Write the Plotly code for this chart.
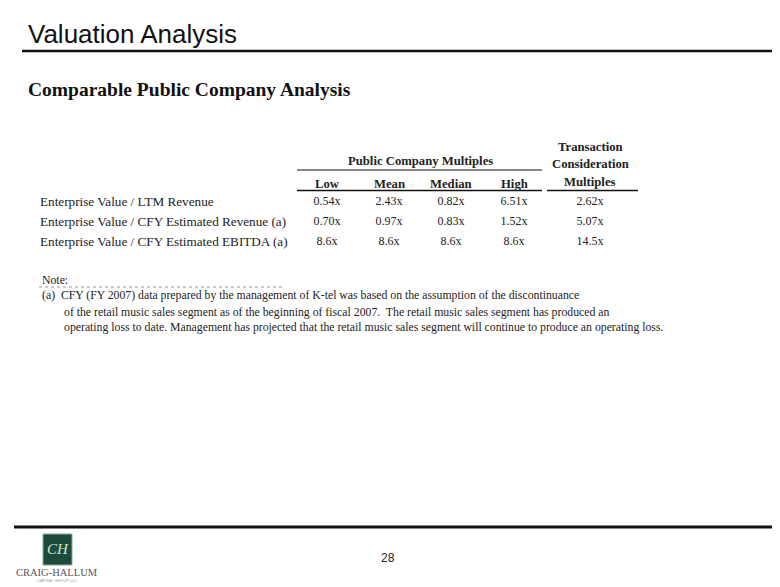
import plotly.graph_objects as go

# table data
row_labels = [
    "Enterprise Value / LTM Revenue",
    "Enterprise Value / CFY Estimated Revenue (a)",
    "Enterprise Value / CFY Estimated EBITDA (a)",
]
col_headers = ["Low", "Mean", "Median", "High"]
low = ["0.54x", "0.70x", "8.6x"]
mean = ["2.43x", "0.97x", "8.6x"]
median = ["0.82x", "0.83x", "8.6x"]
high = ["6.51x", "1.52x", "8.6x"]
transaction = ["2.62x", "5.07x", "14.5x"]

note_lines = [
    "(a)  CFY (FY 2007) data prepared by the management of K-tel was based on the assumption of the discontinuance",
    "of the retail music sales segment as of the beginning of fiscal 2007.  The retail music sales segment has produced an",
    "operating loss to date. Management has projected that the retail music sales segment will continue to produce an operating loss.",
]

SERIF = "Liberation Serif, Times New Roman, serif"
SANS = "Liberation Sans, Arial, sans-serif"
TXT = "#222222"

# page is offset by the 8px body margin, so the axes start at 8
OFF = 8
col_x = [327, 389, 451, 514, 590]
row_y = [202, 222, 242]

fig = go.Figure()

# value cells
for xc, vals in zip(col_x, [low, mean, median, high, transaction]):
    fig.add_trace(go.Scatter(
        x=[xc] * len(vals), y=row_y, text=vals, mode="text",
        textposition="middle center",
        textfont=dict(family=SERIF, size=12, color=TXT),
        hoverinfo="skip", showlegend=False))

# row labels
fig.add_trace(go.Scatter(
    x=[40] * len(row_labels), y=[r + 1 for r in row_y], text=row_labels, mode="text",
    textposition="middle right",
    textfont=dict(family=SERIF, size=13.2, color=TXT),
    hoverinfo="skip", showlegend=False))

ann = []
def txt(x, y, s, size, family=SERIF, bold=False, anchor="left", color=TXT):
    ann.append(dict(x=x, y=y, xref="x", yref="y", text=f"<b>{s}</b>" if bold else s,
                    showarrow=False, xanchor=anchor, yanchor="middle",
                    font=dict(family=family, size=size, color=color)))

txt(26, 34, "Valuation Analysis", 26, family=SANS, color="#111111")
txt(26, 89, "Comparable Public Company Analysis", 19.5, bold=True, color="#111111")

txt(420, 161, "Public Company Multiples", 12.7, bold=True, anchor="center")
for xc, h in zip(col_x[:4], col_headers):
    txt(xc, 184, h, 12.7, bold=True, anchor="center")
txt(590, 147, "Transaction", 12.7, bold=True, anchor="center")
txt(590, 164, "Consideration", 12.7, bold=True, anchor="center")
txt(590, 182, "Multiples", 12.7, bold=True, anchor="center")

txt(40, 280, "Note:", 11.75)
txt(40, 295, note_lines[0], 11.75)
txt(62, 312, note_lines[1], 11.75)
txt(62, 327, note_lines[2], 11.75)

txt(388, 558, "28", 12, family=SANS, anchor="center")

# logo
txt(57.5, 549, "<i>CH</i>", 15, family=SERIF, anchor="center", color="#d8e6c8")
txt(57, 572, "CRAIG-HALLUM", 10.5, family=SERIF, anchor="center", color="#555555")
txt(57, 580, "CAPITAL GROUP LLC", 4, family=SANS, anchor="center", color="#999999")

shapes = [
    dict(type="line", x0=22, x1=780, y0=51, y1=51, line=dict(color="#111111", width=2.5)),
    dict(type="line", x0=297, x1=542, y0=170, y1=170, line=dict(color="#888888", width=2)),
    dict(type="line", x0=297, x1=542, y0=190.5, y1=190.5, line=dict(color="#111111", width=1.5)),
    dict(type="line", x0=547, x1=638, y0=190.5, y1=190.5, line=dict(color="#111111", width=1.5)),
    dict(type="line", x0=39, x1=283, y0=287, y1=287, line=dict(color="#999999", width=1, dash="dot")),
    dict(type="line", x0=14, x1=776, y0=527, y1=527, line=dict(color="#111111", width=3)),
    dict(type="rect", x0=43, x1=72, y0=534, y1=565, fillcolor="#1d4a3c",
         line=dict(color="#8fa89a", width=1)),
]

fig.update_layout(
    width=780 - OFF, height=587 - OFF,
    margin=dict(l=0, r=0, t=0, b=0),
    paper_bgcolor="white", plot_bgcolor="white",
    xaxis=dict(range=[OFF, 780], visible=False, fixedrange=True),
    yaxis=dict(range=[587, OFF], visible=False, fixedrange=True),
    annotations=ann, shapes=shapes,
)

fig.write_html("out.html")
